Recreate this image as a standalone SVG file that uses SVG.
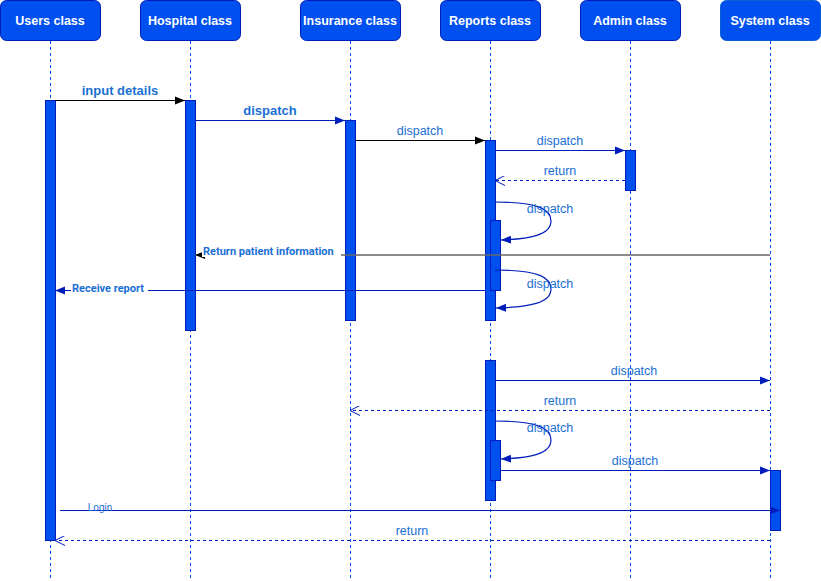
<svg xmlns="http://www.w3.org/2000/svg" width="821" height="581" viewBox="0 0 821 581">
<defs>
<style>
.hdr{fill:#0050EF;stroke:#001DBC;stroke-width:1}
.htx{fill:#fff;font-family:"Liberation Sans",Arial,sans-serif;font-size:12.5px;font-weight:bold;text-anchor:middle}
.life{stroke:#0050EF;stroke-width:1;stroke-dasharray:3,3;fill:none}
.act{fill:#0050EF;stroke:#001DBC;stroke-width:1}
.msg{stroke:#001DBC;stroke-width:1.2;fill:none}
.blk{stroke:#000;stroke-width:1.2;fill:none}
.ret{stroke:#001DBC;stroke-width:1;stroke-dasharray:3,3;fill:none}
.lbl{fill:#1A6FD4;font-family:"Liberation Sans",Arial,sans-serif;font-size:12.5px;text-anchor:middle}
.bl{font-weight:bold;font-size:13px}
.sm{font-family:Roboto,"Liberation Sans",sans-serif;font-size:11px;font-weight:bold;text-anchor:start}
</style>
<marker id="ab" viewBox="0 0 10 10" refX="10" refY="5" markerWidth="10" markerHeight="10" markerUnits="userSpaceOnUse" orient="auto"><path d="M0,1 L10,5 L0,9 Z" fill="#001DBC"/></marker>
<marker id="ak" viewBox="0 0 10 10" refX="10" refY="5" markerWidth="10" markerHeight="10" markerUnits="userSpaceOnUse" orient="auto"><path d="M0,1 L10,5 L0,9 Z" fill="#000"/></marker>
<marker id="ao" viewBox="0 0 10 10" refX="10" refY="5" markerWidth="10" markerHeight="10" markerUnits="userSpaceOnUse" orient="auto"><path d="M0,0 L10,5 L0,10" fill="none" stroke="#001DBC" stroke-width="1"/></marker>
</defs>
<rect width="821" height="581" fill="#fff"/>

<g id="users"><rect class="hdr" x="0.5" y="0.5" width="100" height="40" rx="6"/><text class="htx" x="50" y="24.5">Users class</text><line class="life" x1="50.5" y1="41" x2="50.5" y2="581"/><rect class="act" x="45.5" y="100.5" width="10" height="440"/></g>
<g id="hospital"><rect class="hdr" x="140.5" y="0.5" width="100" height="40" rx="6"/><text class="htx" x="190" y="24.5">Hospital class</text><line class="life" x1="190.5" y1="41" x2="190.5" y2="581"/><rect class="act" x="185.5" y="100.5" width="10" height="230"/></g>
<g id="insurance"><rect class="hdr" x="300.5" y="0.5" width="100" height="40" rx="6"/><text class="htx" x="350" y="24.5">Insurance class</text><line class="life" x1="350.5" y1="41" x2="350.5" y2="581"/><rect class="act" x="345.5" y="120.5" width="10" height="200"/></g>
<g id="reports"><rect class="hdr" x="440.5" y="0.5" width="100" height="40" rx="6"/><text class="htx" x="490" y="24.5">Reports class</text><line class="life" x1="490.5" y1="41" x2="490.5" y2="581"/><rect class="act" x="485.5" y="140.5" width="10" height="180"/><rect class="act" x="490.5" y="220.5" width="10" height="70"/><rect class="act" x="485.5" y="360.5" width="10" height="140"/><rect class="act" x="490.5" y="440.5" width="10" height="40"/></g>
<g id="admin"><rect class="hdr" x="580.5" y="0.5" width="100" height="40" rx="6"/><text class="htx" x="630" y="24.5">Admin class</text><line class="life" x1="630.5" y1="41" x2="630.5" y2="581"/><rect class="act" x="625.5" y="150.5" width="10" height="40"/></g>
<g id="system"><rect class="hdr" x="720.5" y="0.5" width="100" height="40" rx="6" style="stroke:#0A5FD0"/><text class="htx" x="770" y="24.5">System class</text><line class="life" x1="770.5" y1="41" x2="770.5" y2="581"/><rect class="act" x="770.5" y="470.5" width="10" height="60"/></g>

<g id="connectors">
<line class="blk" x1="55" y1="100.5" x2="185" y2="100.5" marker-end="url(#ak)"/>
<text class="lbl bl" x="120" y="95">input details</text>
<line class="msg" x1="195" y1="120.5" x2="345" y2="120.5" marker-end="url(#ab)"/>
<text class="lbl bl" x="270" y="115">dispatch</text>
<line class="blk" x1="355" y1="140.5" x2="485" y2="140.5" marker-end="url(#ak)"/>
<text class="lbl" x="420" y="135">dispatch</text>
<line class="msg" x1="495" y1="150.5" x2="625" y2="150.5" marker-end="url(#ab)"/>
<text class="lbl" x="560" y="145">dispatch</text>
<line class="ret" x1="625" y1="180.5" x2="495" y2="180.5" marker-end="url(#ao)"/>
<text class="lbl" x="560" y="175">return</text>
<path class="msg" d="M495,202 C540,202 551,210 551,221 C551,235 530,239 501,240" marker-end="url(#ab)"/>
<text class="lbl" x="550" y="213">dispatch</text>
<line x1="770" y1="255" x2="195" y2="255" stroke="#666" stroke-width="1.3" marker-end="url(#ak)"/>
<rect x="202" y="244" width="139" height="13" fill="#fff"/>
<text class="lbl sm" x="203" y="255">Return patient information</text>
<line class="msg" x1="485" y1="290.5" x2="55" y2="290.5" marker-end="url(#ab)"/>
<rect x="71" y="281" width="77" height="12" fill="#fff"/>
<text class="lbl sm" x="72" y="292">Receive report</text>
<path class="msg" d="M495,270 C540,270 551,278 551,289 C551,303 530,307 496,308" marker-end="url(#ab)"/>
<text class="lbl" x="550" y="288">dispatch</text>
<line class="msg" x1="495" y1="380.5" x2="770" y2="380.5" marker-end="url(#ab)"/>
<text class="lbl" x="634" y="375">dispatch</text>
<line class="ret" x1="770" y1="410.5" x2="350" y2="410.5" marker-end="url(#ao)"/>
<text class="lbl" x="560" y="405">return</text>
<path class="msg" d="M495,421 C540,421 551,429 551,440 C551,454 530,458 501,459" marker-end="url(#ab)"/>
<text class="lbl" x="550" y="432">dispatch</text>
<line class="msg" x1="500" y1="470.5" x2="770" y2="470.5" marker-end="url(#ab)"/>
<text class="lbl" x="635" y="465">dispatch</text>
<line class="msg" x1="60" y1="510.5" x2="780" y2="510.5" marker-end="url(#ab)"/>
<text class="lbl" x="100" y="511" style="font-size:10px">Login</text>
<line class="ret" x1="770" y1="540.5" x2="55" y2="540.5" marker-end="url(#ao)"/>
<text class="lbl" x="412" y="535">return</text>
</g>
</svg>
